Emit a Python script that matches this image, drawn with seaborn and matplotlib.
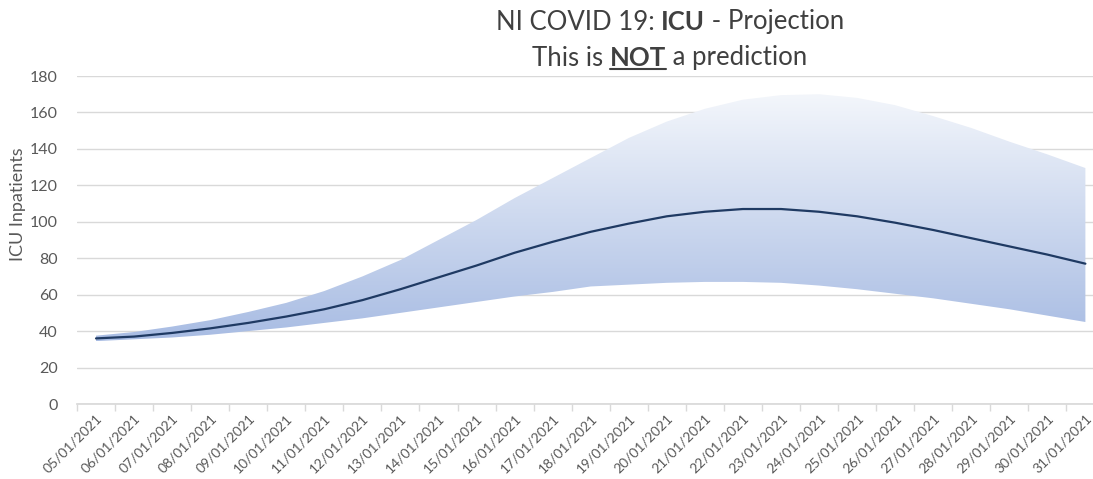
import numpy as np
import pandas as pd
import matplotlib.pyplot as plt
import seaborn as sns
from matplotlib.colors import LinearSegmentedColormap
from matplotlib.lines import Line2D

# data
dates = ['05/01/2021', '06/01/2021', '07/01/2021', '08/01/2021', '09/01/2021',
         '10/01/2021', '11/01/2021', '12/01/2021', '13/01/2021', '14/01/2021',
         '15/01/2021', '16/01/2021', '17/01/2021', '18/01/2021', '19/01/2021',
         '20/01/2021', '21/01/2021', '22/01/2021', '23/01/2021', '24/01/2021',
         '25/01/2021', '26/01/2021', '27/01/2021', '28/01/2021', '29/01/2021',
         '30/01/2021', '31/01/2021']
central = [36, 37, 39, 41.5, 44.5, 48, 52, 57, 63, 69.5, 76, 83, 89, 94.5, 99,
           103, 105.5, 107, 107, 105.5, 103, 99.5, 95.5, 91, 86.5, 82, 77]
upper = [37.5, 39.5, 42.5, 46, 50.5, 55.5, 62, 70, 79, 90, 101, 113, 124, 135,
         146, 155, 162, 167, 169.5, 170, 168, 164, 158, 151.5, 144, 137, 129.5]
lower = [34.5, 35.5, 36.5, 38, 40, 42, 44.5, 47, 50, 53, 56, 59, 61.5, 64.5,
         65.5, 66.5, 67, 67, 66.5, 65, 63, 60.5, 58, 55, 52, 48.5, 45]

df = pd.DataFrame({'idx': range(len(dates)), 'date': dates,
                   'central': central, 'upper': upper, 'lower': lower})

sns.set_theme(style="white")
plt.rcParams['font.family'] = ['Lato', 'DejaVu Sans']

fig = plt.figure(figsize=(10.93, 4.79), dpi=100)
ax = fig.add_axes([77 / 1093, 1 - 404 / 479, 1 - 77 / 1093, 328 / 479])

# gradient band clipped to the fill_between polygon
band = ax.fill_between(df['idx'], df['lower'], df['upper'], color='none', lw=0)
cmap = LinearSegmentedColormap.from_list('band', ['#A8BCE3', '#F3F6FB'])
grad = np.linspace(0, 1, 256).reshape(-1, 1)
img = ax.imshow(grad, cmap=cmap, origin='lower', aspect='auto',
                extent=[df['idx'].min(), df['idx'].max(), min(lower), max(upper)],
                zorder=2)
img.set_clip_path(band.get_paths()[0], transform=ax.transData)

sns.lineplot(data=df, x='idx', y='central', ax=ax, color='#1F3A63', lw=1.6, zorder=3)

ax.set_xlim(-0.5, 26.2)
ax.set_ylim(0, 180)
ax.set_yticks(range(0, 181, 20))
ax.yaxis.grid(True, color='#D9D9D9', lw=1)
ax.set_axisbelow(True)
for s in ['top', 'right', 'left']:
    ax.spines[s].set_visible(False)
ax.spines['bottom'].set_color('#D9D9D9')

ax.set_xticks(df['idx'])
ax.set_xticklabels(dates, rotation=45, ha='right', rotation_mode='anchor',
                   fontsize=10, color='#595959')
ax.set_xticks(np.arange(-0.5, 26.5, 1), minor=True)
ax.tick_params(axis='x', which='major', length=0, pad=6)
ax.tick_params(axis='x', which='minor', length=5, color='#D9D9D9', width=1,
               direction='out', bottom=True)
ax.tick_params(axis='y', length=0, labelsize=11.5, labelcolor='#595959', pad=14)
ax.set_xlabel('')
ax.set_ylabel('ICU Inpatients', fontsize=13, color='#595959')
ax.yaxis.set_label_coords(-0.05, 0.61)

# two-line title with bold / underlined pieces
renderer = fig.canvas.get_renderer()


def rich_line(parts, xc, yc, size):
    texts = []
    for txt, bold, _ in parts:
        t = fig.text(0, yc, txt, fontsize=size, color='#404040', va='center',
                     fontweight='bold' if bold else 'normal')
        texts.append(t)
    widths = [t.get_window_extent(renderer).width for t in texts]
    total = sum(widths)
    x = xc * fig.bbox.width - total / 2
    for t, w, part in zip(texts, widths, parts):
        t.set_x(x / fig.bbox.width)
        if part[2]:
            bb = t.get_window_extent(renderer)
            yline = (bb.y0 + 1) / fig.bbox.height
            fig.add_artist(Line2D([x / fig.bbox.width, (x + w) / fig.bbox.width],
                                  [yline, yline], color='#404040', lw=1.5,
                                  transform=fig.transFigure))
        x += w


rich_line([('NI COVID 19: ', False, False), ('ICU', True, False),
           (' - Projection', False, False)], 670 / 1093, 1 - 22 / 479, 18.5)
rich_line([('This is ', False, False), ('NOT', True, True),
           (' a prediction', False, False)], 670 / 1093, 1 - 58 / 479, 18.5)

fig.savefig('out.png', dpi=100)
